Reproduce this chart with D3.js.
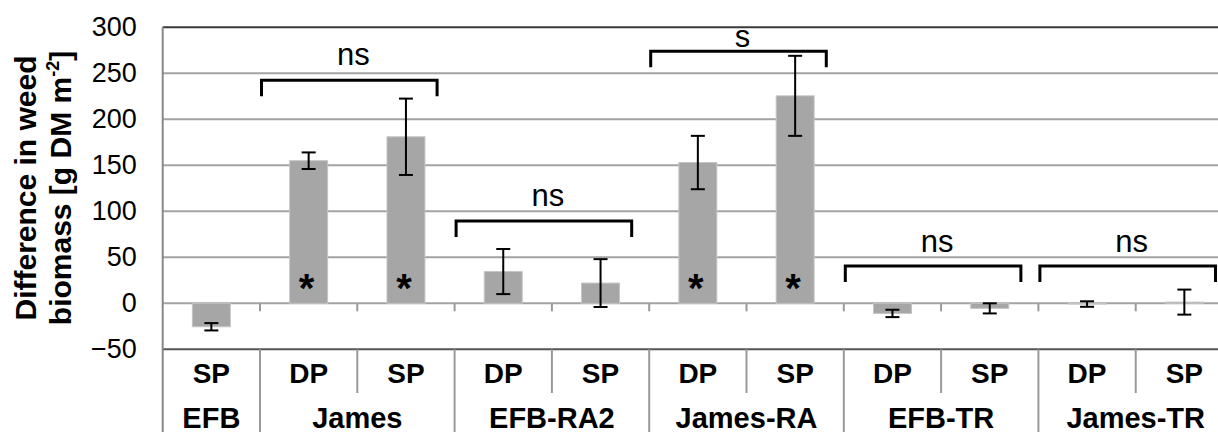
<!DOCTYPE html>
<html>
<head>
<meta charset="utf-8">
<script src="https://cdn.jsdelivr.net/npm/d3@7/dist/d3.min.js"></script>
<style>
  html, body { margin: 0; padding: 0; background: #fff; }
  svg { display: block; font-family: Arial, "Liberation Sans", sans-serif; }
</style>
</head>
<body>
<svg id="chart" width="1218" height="432"></svg>
<script>
// ---- data ----
const treatments = ["SP", "DP", "SP", "DP", "SP", "DP", "SP", "DP", "SP", "DP", "SP"];
const varieties  = ["EFB", "James", "James", "EFB-RA2", "EFB-RA2", "James-RA", "James-RA", "EFB-TR", "EFB-TR", "James-TR", "James-TR"];
const values     = [-25.5, 155, 181, 34.5, 22, 153, 225.5, -11, -5.5, -0.8, 1.3];
const errors     = [4, 9, 41.5, 24.5, 26, 29, 43.5, 4, 5.5, 3, 13.6];
const starred    = [false, true, true, false, false, true, true, false, false, false, false];
const yTicks     = [-50, 0, 50, 100, 150, 200, 250, 300];

const groupNames = ["EFB", "James", "EFB-RA2", "James-RA", "EFB-TR", "James-TR"];
const groupFirst = [0, 1, 3, 5, 7, 9];
const groupLast  = [0, 2, 4, 6, 8, 10];

const bracketLabels = ["ns", "ns", "s", "ns", "ns"];
const bracketFrom   = [1, 3, 5, 7, 9];
const bracketTo     = [2, 4, 6, 8, 10];
const bracketLevel  = [242.5, 89.5, 274, 40.5, 40.5];

// ---- layout ----
const svg = d3.select("#chart");
const plotLeft = 162.7, step = 97.3, nCat = treatments.length;
const plotTop = 27.3, plotBottom = 349.3;
const labelGap = [15, 15, 4.5, 14, 14]; // px between bracket and its label

const x = d3.scaleBand().domain(d3.range(nCat)).range([plotLeft, plotLeft + step * nCat]).paddingInner(0).paddingOuter(0);
const y = d3.scaleLinear().domain([-50, 300]).range([plotBottom, plotTop]);
const bw = x.bandwidth();
const barW = bw * 0.39;
const plotRight = plotLeft + step * nCat;

// gridlines
svg.append("g").selectAll("line").data(yTicks).join("line")
  .attr("x1", plotLeft).attr("x2", plotRight)
  .attr("y1", d => y(d)).attr("y2", d => y(d))
  .attr("stroke", d => (d === 300 ? "#3a3a3a" : d === -50 ? "#555" : "#a3a3a3"))
  .attr("stroke-width", 2);

// x-axis tick marks at zero line
svg.append("g").selectAll("line").data(d3.range(1, nCat)).join("line")
  .attr("x1", i => x(i)).attr("x2", i => x(i))
  .attr("y1", y(0)).attr("y2", y(0) + 8)
  .attr("stroke", "#999").attr("stroke-width", 2);

// table separators: row 1 (every category) and row 2 (groups)
const groupStarts = new Set(groupFirst);
svg.append("g").selectAll("line").data(d3.range(1, nCat)).join("line")
  .attr("x1", i => x(i)).attr("x2", i => x(i))
  .attr("y1", plotBottom).attr("y2", i => groupStarts.has(i) ? 432 : 393)
  .attr("stroke", "#999").attr("stroke-width", 2);

// left axis line
svg.append("line")
  .attr("x1", plotLeft).attr("x2", plotLeft).attr("y1", plotTop).attr("y2", 432)
  .attr("stroke", "#888").attr("stroke-width", 2);

// y-axis labels
const yAxis = d3.axisLeft(y).tickValues(yTicks).tickSize(0).tickPadding(26).tickFormat(d3.format("d"));
const gY = svg.append("g").attr("transform", `translate(${plotLeft},0)`).call(yAxis);
gY.select(".domain").remove();
gY.selectAll("text").attr("font-size", 27).attr("fill", "#000").attr("font-family", "Arial, 'Liberation Sans', sans-serif");

// bars
svg.append("g").selectAll("rect").data(values).join("rect")
  .attr("x", (d, i) => x(i) + bw / 2 - barW / 2)
  .attr("width", barW)
  .attr("y", d => y(Math.max(0, d)))
  .attr("height", d => Math.abs(y(d) - y(0)))
  .attr("fill", "#a6a6a6")
  .attr("stroke", "#c4c4c4").attr("stroke-width", 1);

// error bars
const eg = svg.append("g").attr("stroke", "#000").attr("stroke-width", 2);
values.forEach((v, i) => {
  const cx = x(i) + bw / 2, hi = y(v + errors[i]), lo = y(v - errors[i]), cap = 7;
  eg.append("line").attr("x1", cx).attr("x2", cx).attr("y1", hi).attr("y2", lo);
  eg.append("line").attr("x1", cx - cap).attr("x2", cx + cap).attr("y1", hi).attr("y2", hi);
  eg.append("line").attr("x1", cx - cap).attr("x2", cx + cap).attr("y1", lo).attr("y2", lo);
});

// asterisks
svg.append("g").selectAll("text").data(d3.range(nCat).filter(i => starred[i])).join("text")
  .attr("x", i => x(i) + bw / 2 - 2)
  .attr("y", y(0) - 1)
  .attr("text-anchor", "middle")
  .attr("font-size", 40).attr("font-weight", "bold")
  .text("*");

// significance brackets
const bg = svg.append("g");
bracketLabels.forEach((lab, k) => {
  const x1 = x(bracketFrom[k]) + 1.5;
  const x2 = x(bracketTo[k]) + bw * 0.82;
  const yb = y(bracketLevel[k]);
  bg.append("path")
    .attr("d", `M${x1},${yb + 16}V${yb}H${x2}V${yb + 16}`)
    .attr("fill", "none").attr("stroke", "#000").attr("stroke-width", 3);
  bg.append("text")
    .attr("x", (x1 + x2) / 2 + 4).attr("y", yb - labelGap[k])
    .attr("text-anchor", "middle").attr("font-size", 31)
    .text(lab);
});

// category labels (row 1)
svg.append("g").selectAll("text").data(treatments).join("text")
  .attr("x", (d, i) => x(i) + bw / 2).attr("y", 383)
  .attr("text-anchor", "middle").attr("font-size", 28).attr("font-weight", "bold")
  .text(d => d);

// group labels (row 2)
svg.append("g").selectAll("text").data(groupNames).join("text")
  .attr("x", (d, k) => (x(groupFirst[k]) + x(groupLast[k]) + bw) / 2).attr("y", 428)
  .attr("text-anchor", "middle").attr("font-size", 29).attr("font-weight", "bold")
  .text(d => d);

// y-axis title
const t = svg.append("text")
  .attr("transform", `translate(36,188) rotate(-90)`)
  .attr("text-anchor", "middle").attr("font-size", 30).attr("font-weight", "bold");
t.append("tspan").attr("x", 0).attr("dy", 0).text("Difference in weed");
const t2 = t.append("tspan").attr("x", 0).attr("dy", 35);
t2.append("tspan").text("biomass [g DM m");
t2.append("tspan").attr("font-size", 18).attr("dy", -12).text("-2");
t2.append("tspan").attr("dy", 12).text("]");
</script>
</body>
</html>
